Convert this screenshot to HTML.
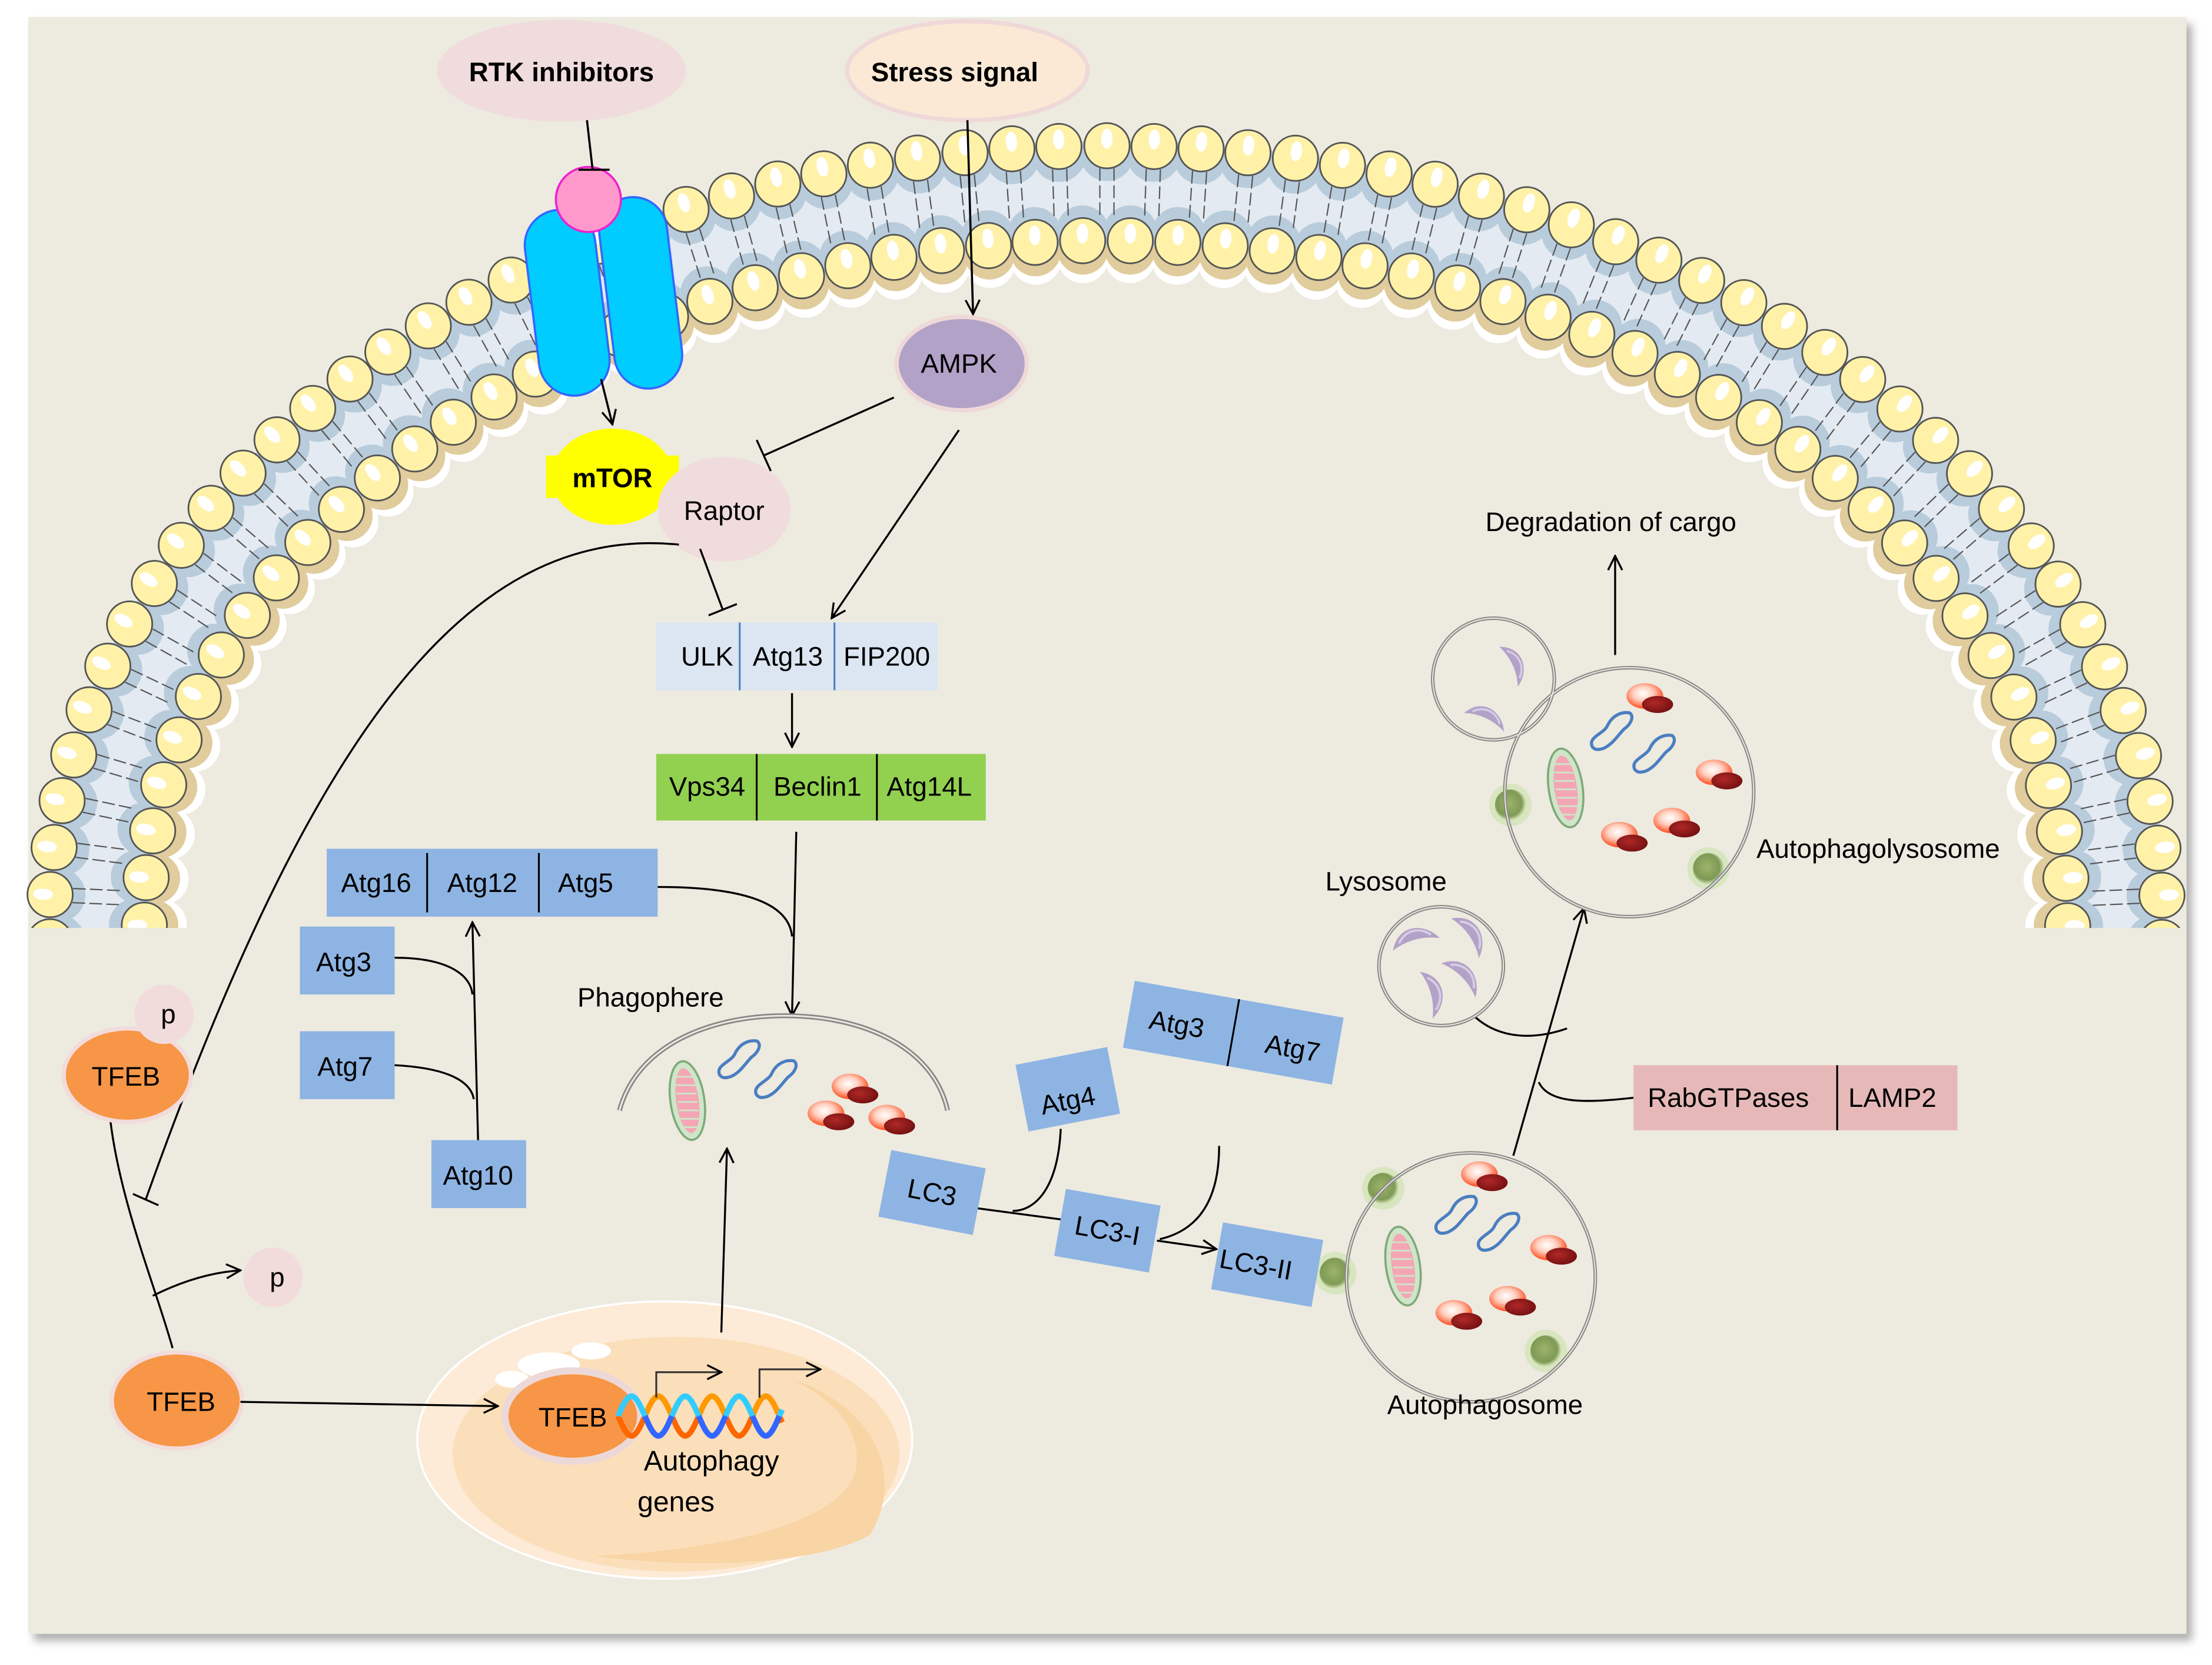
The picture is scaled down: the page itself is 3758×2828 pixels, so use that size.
<!DOCTYPE html>
<html><head><meta charset="utf-8"><style>
html,body{margin:0;padding:0;background:#fff;}
svg{display:block;}
text{font-family:"Liberation Sans",sans-serif;fill:#000;}
</style></head><body>
<svg id="s" xmlns="http://www.w3.org/2000/svg" width="3758" height="2828" viewBox="0 0 1564 1177">
<defs>
<filter id="blur" x="-5%" y="-5%" width="110%" height="110%"><feGaussianBlur stdDeviation="3"/></filter>
<marker id="a" viewBox="0 0 12 12" refX="11" refY="6" markerWidth="12" markerHeight="12" markerUnits="userSpaceOnUse" orient="auto"><path d="M1,1 L11,6 L1,11" fill="none" stroke="#000" stroke-width="1.4"/></marker>
<radialGradient id="rb" cx="45%" cy="40%" r="60%"><stop offset="0" stop-color="#fff"/><stop offset="0.45" stop-color="#FFD0C0"/><stop offset="1" stop-color="#FF4A1A"/></radialGradient>
<radialGradient id="dr" cx="40%" cy="40%" r="70%"><stop offset="0" stop-color="#B02828"/><stop offset="1" stop-color="#6E0E0E"/></radialGradient>
<radialGradient id="gd" cx="45%" cy="45%" r="55%"><stop offset="0" stop-color="#9DB36A"/><stop offset="0.75" stop-color="#7E9A55"/><stop offset="1" stop-color="#D6E4B8"/></radialGradient>
<clipPath id="mc"><rect x="0" y="0" width="1564" height="656"/></clipPath>
</defs>
<rect x="24" y="17" width="1526" height="1143" fill="#B0B0B0" filter="url(#blur)"/>
<rect x="20" y="12" width="1526" height="1143" fill="#EDEAE0"/>
<g id="mem" clip-path="url(#mc)"></g>

<ellipse cx="397" cy="50" rx="88" ry="36" fill="#F0DCDC"/>
<text x="397" y="51" font-size="19" font-weight="bold" text-anchor="middle" dominant-baseline="central">RTK inhibitors</text>
<ellipse cx="684" cy="50" rx="85" ry="35" fill="#FBE9D6" stroke="#EFD8D8" stroke-width="3"/>
<text x="675" y="51" font-size="19" font-weight="bold" text-anchor="middle" dominant-baseline="central">Stress signal</text>

<g stroke="#3366FF" stroke-width="1.5" fill="#00CCFF">
<rect x="376" y="148" width="50" height="132" rx="25" transform="rotate(-7 401 214)"/>
<rect x="429" y="139" width="48" height="136" rx="24" transform="rotate(-7 453 207)"/>
</g>
<circle cx="416" cy="141" r="23" fill="#FF99CC" stroke="#EE22CC" stroke-width="1.5"/>
<line x1="415" y1="85" x2="419" y2="120" stroke="#000" stroke-width="1.5"/>
<line x1="409" y1="120" x2="431" y2="120" stroke="#000" stroke-width="1.5"/>
<line x1="684" y1="85" x2="688" y2="222" stroke="#000" stroke-width="1.5" marker-end="url(#a)"/>
<line x1="425" y1="268" x2="433" y2="300" stroke="#000" stroke-width="1.5" marker-end="url(#a)"/>

<ellipse cx="680" cy="257" rx="46" ry="33" fill="#B3A2C7" stroke="#EFD8D8" stroke-width="3"/>
<text x="678" y="257" font-size="19" text-anchor="middle" dominant-baseline="central">AMPK</text>

<rect x="386" y="322" width="94" height="30" fill="#FFFF00"/>
<ellipse cx="433" cy="337" rx="43" ry="34" fill="#FFFF00"/>
<text x="433" y="338" font-size="19" font-weight="bold" text-anchor="middle" dominant-baseline="central">mTOR</text>
<ellipse cx="512" cy="360" rx="47" ry="37" fill="#F0DCDC"/>
<text x="512" y="361" font-size="19" text-anchor="middle" dominant-baseline="central">Raptor</text>

<g stroke="#000" stroke-width="1.4" fill="none">
<line x1="632" y1="281" x2="540" y2="322"/>
<line x1="535" y1="311" x2="545" y2="333"/>
<line x1="678" y1="304" x2="588" y2="437" marker-end="url(#a)"/>
<line x1="495" y1="388" x2="511" y2="431"/>
<line x1="501" y1="435" x2="521" y2="427"/>
<path d="M480,385 C330,370 220,520 103,848"/>
<line x1="94" y1="844" x2="112" y2="852"/>
<line x1="560" y1="490" x2="560" y2="528" marker-end="url(#a)"/>
<line x1="563" y1="588" x2="560" y2="718" marker-end="url(#a)"/>
<path d="M465,627 C530,627 558,640 560,662"/>
<line x1="338" y1="806" x2="334" y2="652" marker-end="url(#a)"/>
<path d="M279,677 C318,677 333,690 334,703"/>
<path d="M279,753 C318,755 333,765 335,777"/>
<path d="M78,792 C85,850 110,910 122,953"/>
<path d="M108,916 Q140,900 170,898" marker-end="url(#a)"/>
<line x1="690" y1="854" x2="750" y2="862"/>
<line x1="818" y1="877" x2="860" y2="883" marker-end="url(#a)"/>
<path d="M750,798 C748,840 732,856 716,856"/>
<path d="M862,810 C862,850 846,870 820,876"/>
<line x1="1070" y1="817" x2="1120" y2="642" marker-end="url(#a)"/>
<path d="M1042,718 C1060,735 1085,735 1108,727"/>
<path d="M1155,776 C1120,780 1095,780 1088,765"/>
<line x1="1142" y1="463" x2="1142" y2="393" marker-end="url(#a)"/>
</g>

<rect x="464" y="440" width="199" height="48" fill="#DCE6F2"/>
<line x1="523" y1="440" x2="523" y2="488" stroke="#4F81BD" stroke-width="1.3"/>
<line x1="590" y1="440" x2="590" y2="488" stroke="#4F81BD" stroke-width="1.3"/>
<g font-size="19" text-anchor="middle" dominant-baseline="central">
<text x="500" y="464">ULK</text><text x="557" y="464">Atg13</text><text x="627" y="464">FIP200</text>
</g>
<rect x="464" y="533" width="233" height="47" fill="#92D050"/>
<line x1="535" y1="533" x2="535" y2="580" stroke="#000" stroke-width="1.3"/>
<line x1="620" y1="533" x2="620" y2="580" stroke="#000" stroke-width="1.3"/>
<g font-size="19" text-anchor="middle" dominant-baseline="central">
<text x="500" y="556">Vps34</text><text x="578" y="556">Beclin1</text><text x="657" y="556">Atg14L</text>
</g>

<g fill="#8EB4E3">
<rect x="231" y="600" width="234" height="48"/>
<rect x="212" y="655" width="67" height="48"/>
<rect x="212" y="729" width="67" height="48"/>
<rect x="305" y="806" width="67" height="48"/>
</g>
<line x1="302" y1="603" x2="302" y2="645" stroke="#000" stroke-width="1.3"/>
<line x1="381" y1="603" x2="381" y2="645" stroke="#000" stroke-width="1.3"/>
<g font-size="19" text-anchor="middle" dominant-baseline="central">
<text x="266" y="624">Atg16</text><text x="341" y="624">Atg12</text><text x="414" y="624">Atg5</text>
<text x="243" y="680">Atg3</text><text x="244" y="754">Atg7</text><text x="338" y="831">Atg10</text>
</g>

<ellipse cx="90" cy="760" rx="45" ry="33" fill="#F79646" stroke="#F2DCDB" stroke-width="3"/>
<circle cx="116" cy="717" r="21" fill="#F2DCDB"/>
<circle cx="193" cy="903" r="21" fill="#F2DCDB"/>
<ellipse cx="125" cy="990" rx="46" ry="34" fill="#F79646" stroke="#F2DCDB" stroke-width="3"/>
<g font-size="19" text-anchor="middle" dominant-baseline="central">
<text x="89" y="761">TFEB</text><text x="119" y="717">p</text><text x="196" y="903">p</text><text x="128" y="991">TFEB</text>
</g>

<ellipse cx="470" cy="1018" rx="175" ry="98" fill="#FDEBD7" stroke="#fff" stroke-width="1.5"/>
<ellipse cx="478" cy="1028" rx="158" ry="83" fill="#FBDFBB"/>
<path d="M560,975 C620,995 640,1045 615,1085 C580,1105 500,1110 420,1100 C520,1095 595,1075 605,1040 C610,1010 590,990 560,975Z" fill="#F9D4A4"/>
<ellipse cx="388" cy="965" rx="22" ry="9" fill="#fff"/>
<ellipse cx="418" cy="955" rx="14" ry="6" fill="#fff"/>
<ellipse cx="362" cy="975" rx="12" ry="6" fill="#fff"/>
<line x1="170" y1="991" x2="352" y2="994" stroke="#000" stroke-width="1.4" marker-end="url(#a)"/>
<line x1="510" y1="942" x2="514" y2="812" stroke="#000" stroke-width="1.4" marker-end="url(#a)"/>
<ellipse cx="405" cy="1001" rx="48" ry="32" fill="#F79646" stroke="#EDD8D8" stroke-width="5"/>
<text x="405" y="1002" font-size="19" text-anchor="middle" dominant-baseline="central">TFEB</text>
<g id="dna" fill="none" stroke-width="4"></g>
<g stroke="#333" stroke-width="1.3" fill="none">
<path d="M464,988 L464,970 L510,970" marker-end="url(#a)"/>
<path d="M537,988 L537,968 L580,968" marker-end="url(#a)"/>
</g>
<text x="503" y="1033" font-size="20" text-anchor="middle" dominant-baseline="central">Autophagy</text>
<text x="478" y="1062" font-size="20" text-anchor="middle" dominant-baseline="central">genes</text>

<path d="M438,785 C450,740 500,718 555,718 C610,718 660,740 670,785" fill="none" stroke="#888" stroke-width="3.5"/>
<path d="M438,785 C450,740 500,718 555,718 C610,718 660,740 670,785" fill="none" stroke="#EDEAE0" stroke-width="1.2"/>
<text x="460" y="705" font-size="19" text-anchor="middle" dominant-baseline="central">Phagophere</text>
<g id="cargo"></g>

<g fill="#8EB4E3">
<rect x="625" y="819" width="68" height="48" transform="rotate(11 659 843)"/>
<rect x="722" y="746" width="66" height="48" transform="rotate(-11 755 770)"/>
<rect x="797" y="706" width="150" height="48" transform="rotate(10 872 730)"/>
<rect x="749" y="846" width="68" height="48" transform="rotate(10 783 870)"/>
<rect x="860" y="870" width="72" height="48" transform="rotate(10 896 894)"/>
</g>
<line x1="872" y1="706" x2="872" y2="754" stroke="#000" stroke-width="1.3" transform="rotate(10 872 730)"/>
<g font-size="19" text-anchor="middle" dominant-baseline="central">
<text x="659" y="843" transform="rotate(11 659 843)">LC3</text>
<text x="755" y="778" transform="rotate(-11 755 778)">Atg4</text>
<text x="832" y="724" transform="rotate(10 832 724)">Atg3</text>
<text x="914" y="741" transform="rotate(10 914 741)">Atg7</text>
<text x="783" y="870" transform="rotate(10 783 870)">LC3-I</text>
<text x="888" y="894" transform="rotate(10 888 894)">LC3-II</text>
</g>

<g fill="none" stroke="#888" stroke-width="2.5">
<circle cx="1056" cy="480" r="43"/>
<circle cx="1152" cy="560" r="88"/>
<circle cx="1040" cy="903" r="88"/>
<ellipse cx="1019" cy="683" rx="44" ry="42"/>
</g>
<g fill="none" stroke="#EDEAE0" stroke-width="0.8">
<circle cx="1056" cy="480" r="43"/><circle cx="1152" cy="560" r="88"/><circle cx="1040" cy="903" r="88"/><ellipse cx="1019" cy="683" rx="44" ry="42"/>
</g>
<g font-size="19" text-anchor="middle" dominant-baseline="central">
<text x="1139" y="369">Degradation of cargo</text>
<text x="1328" y="600">Autophagolysosome</text>
<text x="980" y="623">Lysosome</text>
<text x="1050" y="993">Autophagosome</text>
</g>
<rect x="1155" y="753" width="229" height="46" fill="#E6B9B8"/>
<line x1="1299" y1="753" x2="1299" y2="799" stroke="#000" stroke-width="1.3"/>
<g font-size="19" text-anchor="middle" dominant-baseline="central">
<text x="1222" y="776">RabGTPases</text><text x="1338" y="776">LAMP2</text>
</g>
</svg>
<script>
(function(){
var NS="http://www.w3.org/2000/svg";
function el(t,a,p){var e=document.createElementNS(NS,t);for(var k in a)e.setAttribute(k,a[k]);p.appendChild(e);return e;}
var mem=document.getElementById('mem');
var cx=782,cy=650,rx=747,ry=547,TH=67;
function P(t){return [cx+rx*Math.cos(t),cy-ry*Math.sin(t)];}
function N(t){var nx=Math.cos(t)/rx,ny=-Math.sin(t)/ry,l=Math.hypot(nx,ny);return [nx/l,ny/l];}
function pts(off){var arr=[];for(var i=0;i<=4000;i++){var t=-0.25+(Math.PI+0.5)*i/4000;var p=P(t),n=N(t);arr.push({t:t,x:p[0]-n[0]*off,y:p[1]-n[1]*off,nx:n[0],ny:n[1]});}
 var s=0;arr[0].s=0;for(i=1;i<arr.length;i++){s+=Math.hypot(arr[i].x-arr[i-1].x,arr[i].y-arr[i-1].y);arr[i].s=s;}
 var mid=arr[2000].s;arr.forEach(function(a){a.s-=mid;});return arr;}
function place(arr,sp,ph){var res=[],k=Math.ceil(arr[0].s/sp),j=0;for(;;k++){var target=k*sp+ph;if(target>arr[arr.length-1].s)break;while(j<arr.length-1&&arr[j+1].s<target)j++;if(j>=arr.length-1)break;res.push(arr[j]);}return res;}
var outer=place(pts(0),33.5,0),inner=place(pts(TH),33.5,16.7);
var d="";for(var i=0;i<=400;i++){var t=-0.25+(Math.PI+0.5)*i/400,p=P(t),n=N(t);d+=(i?"L":"M")+(p[0]-n[0]*TH/2).toFixed(1)+","+(p[1]-n[1]*TH/2).toFixed(1);}
el('path',{d:d,fill:'none',stroke:'#E3EAF1','stroke-width':TH},mem);
inner.forEach(function(b){el('circle',{cx:b.x-b.nx*12,cy:b.y-b.ny*12,r:18,fill:'#fff'},mem);});
inner.forEach(function(b){el('circle',{cx:b.x-b.nx*6,cy:b.y-b.ny*6,r:18,fill:'#E0CC9C'},mem);});
inner.forEach(function(b){el('circle',{cx:b.x+b.nx*6,cy:b.y+b.ny*6,r:19,fill:'#B8CCDC'},mem);});
outer.forEach(function(b){el('circle',{cx:b.x-b.nx*6,cy:b.y-b.ny*6,r:19,fill:'#B8CCDC'},mem);});
outer.forEach(function(b){var tx=-b.ny,ty=b.nx;[-5,5].forEach(function(o){el('line',{x1:b.x-b.nx*16+tx*o,y1:b.y-b.ny*16+ty*o,x2:b.x-b.nx*(TH-16)+tx*o,y2:b.y-b.ny*(TH-16)+ty*o,stroke:'#555','stroke-width':0.9,'stroke-dasharray':'9 3'},mem);});});
function bead(b){el('circle',{cx:b.x,cy:b.y,r:16,fill:'#FFF2A8',stroke:'#555','stroke-width':1.2},mem);
 var hx=b.x+b.nx*5,hy=b.y+b.ny*5,ang=Math.atan2(b.ny,b.nx)*180/Math.PI;
 el('ellipse',{cx:hx,cy:hy,rx:7,ry:4,fill:'#fff',transform:'rotate('+ang+' '+hx+' '+hy+')'},mem);}
inner.forEach(bead);outer.forEach(bead);
var dna=document.getElementById('dna');
function strand(ph,c1,c2){var per=38;for(var k=0;k<7;k++){var x0=437+k*per/2,dd="";for(var x=x0;x<=Math.min(x0+per/2,553);x+=1){var y=1001+14*Math.sin(2*Math.PI*(x-437)/per+ph);dd+=(x==x0?"M":"L")+x+","+y.toFixed(1);}if(dd)el('path',{d:dd,stroke:k%2?c2:c1},dna);}}
strand(0,'#FF6600','#FF9900');strand(Math.PI,'#33CCFF','#3366FF');
var cg=document.getElementById('cargo');
function mito(x,y,rot){var g=el('g',{transform:'translate('+x+','+y+') rotate('+rot+')'},cg);
 el('ellipse',{cx:0,cy:0,rx:12,ry:28,fill:'#CFE5C8',stroke:'#7FA97A','stroke-width':1.5},g);
 el('ellipse',{cx:0,cy:0,rx:8,ry:23,fill:'#F4A6B4'},g);
 for(var i=-18;i<=18;i+=6)el('line',{x1:-7,y1:i,x2:7,y2:i+2,stroke:'#CFE5C8','stroke-width':1.2},g);}
function prot(x,y,rot){var g=el('g',{transform:'translate('+x+','+y+') rotate('+rot+')'},cg);
 el('path',{d:'M-12,14 C-16,8 -6,4 -4,-2 C-2,-10 4,-14 10,-14 C14,-12 12,-6 8,-2 C4,4 2,10 -4,14 C-8,16 -10,16 -12,14Z',fill:'none',stroke:'#4A7EC0','stroke-width':2.2},g);}
function blob(x,y){el('ellipse',{cx:x,cy:y,rx:13,ry:9,fill:'url(#rb)'},cg);el('ellipse',{cx:x+9,cy:y+6,rx:11,ry:6,fill:'url(#dr)'},cg);}
function greenDot(x,y){el('circle',{cx:x,cy:y,r:15,fill:'#D8E6C0'},cg);el('circle',{cx:x,cy:y,r:11,fill:'url(#gd)'},cg);}
function cres(x,y,rot,s){var g=el('g',{transform:'translate('+x+','+y+') rotate('+rot+') scale('+(s||1)+')'},cg);
 el('path',{d:'M-10,-10 C6,-16 16,-2 12,12 C8,2 0,-6 -10,-10Z',fill:'#B3A2C7'},g);
 el('path',{d:'M-4,-9 C6,-10 12,-2 11,6',fill:'none',stroke:'#D6CCE4','stroke-width':1.5},g);}
mito(486,778,-8);prot(523,748,10);prot(549,762,10);blob(601,768);blob(584,787);blob(627,790);
mito(992,895,-8);prot(1030,858,10);prot(1060,870,10);blob(1046,830);blob(1095,882);blob(1028,928);blob(1066,918);
greenDot(978,840);greenDot(944,900);greenDot(1093,955);
mito(1107,557,-8);prot(1140,516,10);prot(1170,532,10);blob(1163,492);blob(1212,546);blob(1145,590);blob(1182,580);
greenDot(1068,569);greenDot(1208,614);
cres(1066,470,20);cres(1048,510,-20);
cres(1000,668,-60,1.1);cres(1035,662,10,1.1);cres(1008,702,30,1.1);cres(1030,692,0,1.1);
})();
</script>
</body></html>
